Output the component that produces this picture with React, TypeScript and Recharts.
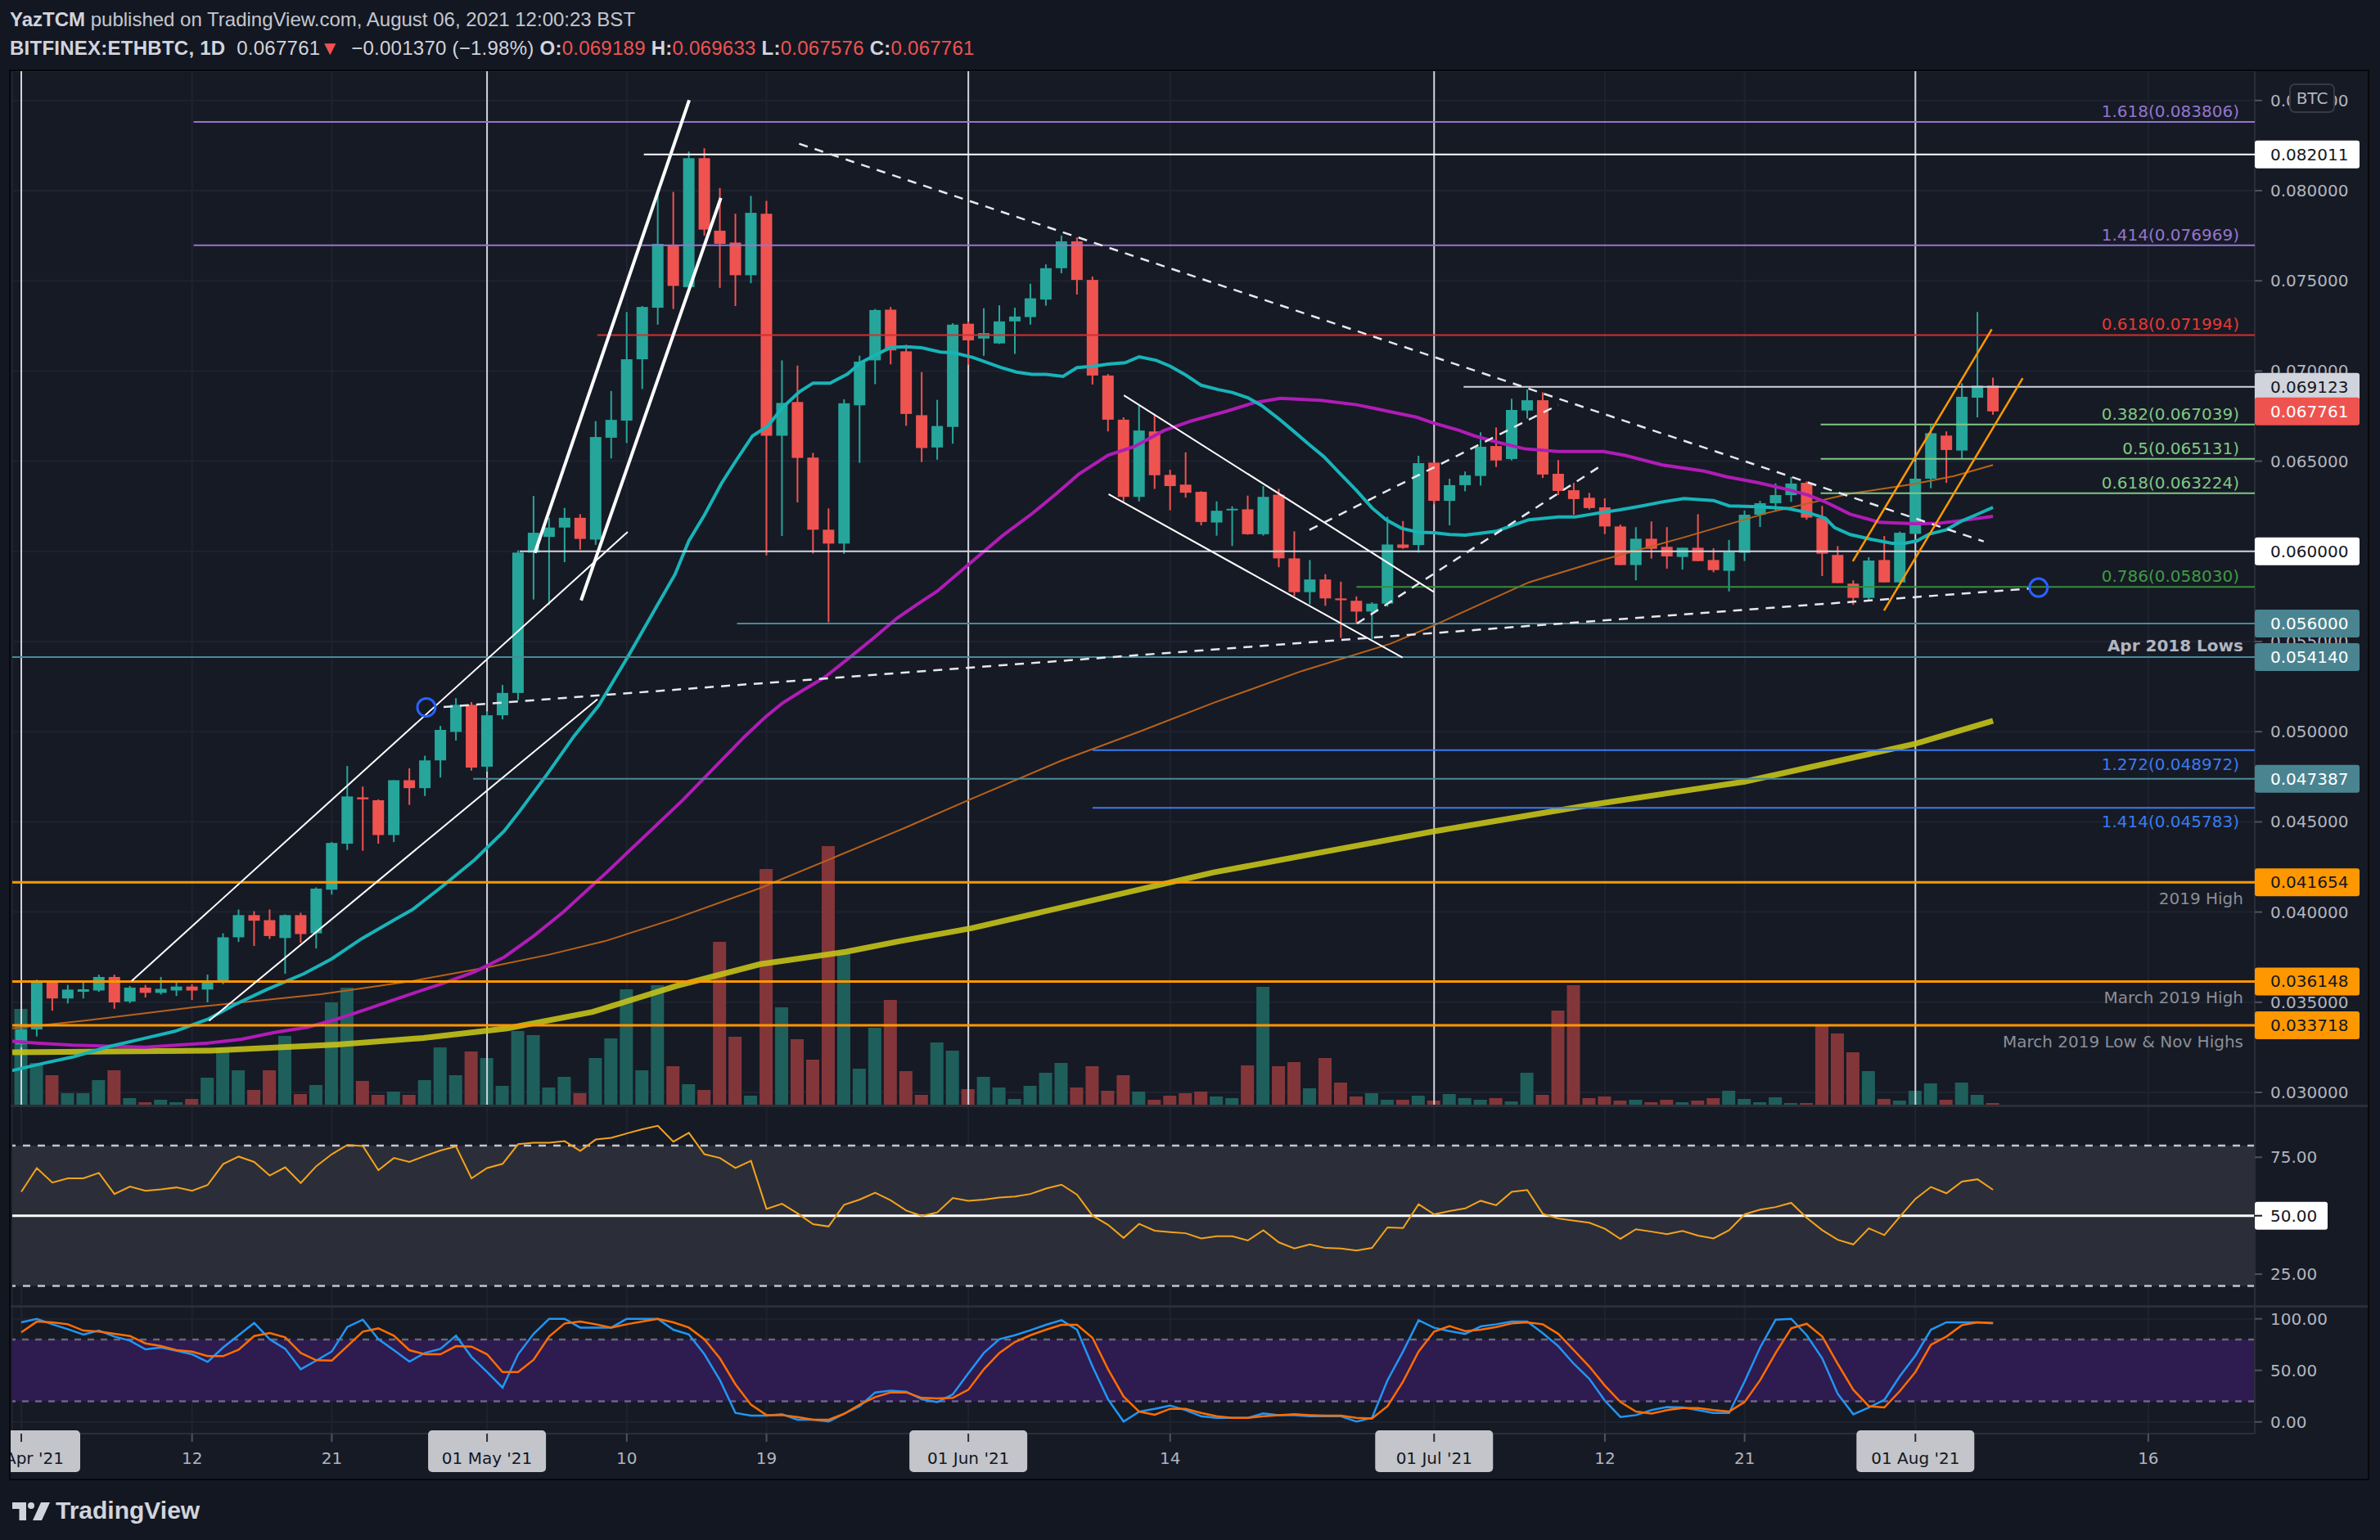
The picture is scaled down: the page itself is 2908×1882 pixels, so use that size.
import React from "react";
import {
  ComposedChart,
  Bar,
  Line,
  XAxis,
  YAxis,
  CartesianGrid,
  ReferenceLine,
  ReferenceArea,
  ReferenceDot,
} from "recharts";

// ─── Data (day index 0 = 01 Apr 2021) ────────────────────────────────────────

const opens = [
  0.03266, 0.03349, 0.03614, 0.03521, 0.03558, 0.03565, 0.0364, 0.03504, 0.03581, 0.03552,
  0.03565, 0.03587, 0.0357, 0.03609, 0.0386, 0.03983, 0.03955, 0.03856, 0.03983, 0.03882,
  0.04124, 0.04379, 0.04636, 0.0462, 0.04427, 0.04731, 0.04687, 0.04841, 0.04999, 0.05149,
  0.04806, 0.05091, 0.05215, 0.05993, 0.0608, 0.06132, 0.06186, 0.06065, 0.0663, 0.06725,
  0.07065, 0.07351, 0.07696, 0.07465, 0.0818, 0.07778, 0.07712, 0.07531, 0.07872, 0.06641,
  0.06828, 0.0652, 0.0612, 0.06043, 0.0681, 0.07059, 0.0734, 0.07109, 0.06755, 0.06576,
  0.0669, 0.07262, 0.0718, 0.07153, 0.07275, 0.07299, 0.07396, 0.0757, 0.07719, 0.07505,
  0.06975, 0.0673, 0.06302, 0.06665, 0.06424, 0.0637, 0.0633, 0.0616, 0.06228, 0.06233,
  0.06095, 0.06314, 0.05961, 0.05774, 0.05844, 0.05739, 0.05726, 0.05666, 0.0571, 0.06038,
  0.06035, 0.06492, 0.0628, 0.06367, 0.06418, 0.06584, 0.06512, 0.06781, 0.06838, 0.0643,
  0.06339, 0.06297, 0.06244, 0.06138, 0.05924, 0.0607, 0.06025, 0.05969, 0.0602, 0.05952,
  0.05892, 0.05992, 0.06203, 0.06267, 0.06312, 0.0638, 0.06184, 0.0598, 0.05821, 0.05742,
  0.05952, 0.05828, 0.06097, 0.06403, 0.06642, 0.06559, 0.06852, 0.069189,
];
const highs = [
  0.0336, 0.03625, 0.0362, 0.03596, 0.03609, 0.03653, 0.03653, 0.0359, 0.03596, 0.0364,
  0.03609, 0.036, 0.03653, 0.03882, 0.04014, 0.04005, 0.04014, 0.03987, 0.03996, 0.04137,
  0.04388, 0.0481, 0.04696, 0.04625, 0.04731, 0.04797, 0.04867, 0.05032, 0.05186, 0.05164,
  0.05113, 0.05259, 0.06006, 0.06307, 0.06186, 0.06241, 0.06206, 0.06722, 0.06889, 0.07327,
  0.0736, 0.07982, 0.07993, 0.08217, 0.08235, 0.08015, 0.07872, 0.07971, 0.07943, 0.07059,
  0.0703, 0.06546, 0.06238, 0.06843, 0.07085, 0.07344, 0.07355, 0.07145, 0.06994, 0.0684,
  0.07265, 0.07275, 0.07348, 0.07364, 0.07351, 0.07484, 0.07591, 0.07751, 0.0774, 0.07524,
  0.06983, 0.06743, 0.06808, 0.0676, 0.06452, 0.06549, 0.06333, 0.06277, 0.0625, 0.06309,
  0.06362, 0.06346, 0.06111, 0.05952, 0.05873, 0.05832, 0.0575, 0.05718, 0.06192, 0.06168,
  0.0653, 0.06492, 0.06403, 0.06443, 0.0666, 0.06687, 0.06846, 0.06897, 0.06882, 0.06506,
  0.0638, 0.06324, 0.06294, 0.06149, 0.06134, 0.06166, 0.06134, 0.0602, 0.06206, 0.06017,
  0.06063, 0.06226, 0.0628, 0.06377, 0.06413, 0.06388, 0.06252, 0.06029, 0.05839, 0.05967,
  0.06085, 0.0611, 0.06498, 0.06698, 0.06665, 0.06932, 0.07327, 0.069633,
];
const lows = [
  0.0325, 0.0331, 0.03453, 0.03493, 0.03521, 0.03557, 0.03464, 0.03495, 0.03526, 0.03543,
  0.03535, 0.03513, 0.03499, 0.036, 0.03834, 0.03812, 0.03851, 0.03658, 0.0383, 0.03798,
  0.04097, 0.04344, 0.0434, 0.04379, 0.04388, 0.04594, 0.04643, 0.04746, 0.04951, 0.04784,
  0.04779, 0.05069, 0.05175, 0.05733, 0.05703, 0.0594, 0.0601, 0.06036, 0.06515, 0.06601,
  0.069, 0.07257, 0.07344, 0.07465, 0.07751, 0.07461, 0.0736, 0.07487, 0.05977, 0.06085,
  0.06271, 0.05988, 0.05607, 0.05986, 0.06491, 0.06927, 0.07037, 0.06696, 0.06495, 0.06508,
  0.06597, 0.07035, 0.07084, 0.0715, 0.07095, 0.07257, 0.07362, 0.07542, 0.07424, 0.06925,
  0.06665, 0.06273, 0.06277, 0.06346, 0.06228, 0.06298, 0.06144, 0.06087, 0.0603, 0.06092,
  0.06087, 0.05912, 0.05752, 0.05706, 0.05698, 0.0552, 0.05601, 0.05512, 0.05693, 0.06014,
  0.05993, 0.06261, 0.06144, 0.06333, 0.06365, 0.06468, 0.06504, 0.06736, 0.06407, 0.06312,
  0.06203, 0.06232, 0.06096, 0.05924, 0.05839, 0.0596, 0.05904, 0.05899, 0.05946, 0.05884,
  0.05778, 0.05946, 0.06135, 0.06222, 0.06274, 0.06176, 0.05863, 0.05824, 0.05703, 0.05722,
  0.05828, 0.05828, 0.06097, 0.0635, 0.0638, 0.06513, 0.06743, 0.067576,
];
const closes = [
  0.03349, 0.03614, 0.03521, 0.0357, 0.03572, 0.0364, 0.03499, 0.03581, 0.03552, 0.03574,
  0.03587, 0.03565, 0.03609, 0.0386, 0.03983, 0.03952, 0.03867, 0.03983, 0.03878, 0.0413,
  0.04383, 0.04641, 0.04625, 0.04427, 0.04731, 0.04687, 0.04841, 0.0501, 0.05149, 0.04801,
  0.05091, 0.05215, 0.05993, 0.06103, 0.06132, 0.06186, 0.06069, 0.06634, 0.06729, 0.07065,
  0.07355, 0.07705, 0.07472, 0.0818, 0.07784, 0.07705, 0.07531, 0.07877, 0.06641, 0.06823,
  0.06518, 0.0612, 0.06043, 0.06821, 0.07052, 0.07338, 0.07114, 0.06762, 0.06573, 0.06695,
  0.07257, 0.0717, 0.0721, 0.07275, 0.07302, 0.07403, 0.0757, 0.07719, 0.07505, 0.06975,
  0.0673, 0.06302, 0.0667, 0.06422, 0.06362, 0.06325, 0.06163, 0.06225, 0.06236, 0.06095,
  0.06302, 0.05961, 0.05774, 0.05844, 0.05739, 0.05729, 0.05666, 0.0571, 0.06038, 0.06019,
  0.06489, 0.0628, 0.06367, 0.06422, 0.0658, 0.06504, 0.06784, 0.06838, 0.06426, 0.06335,
  0.0629, 0.0624, 0.06138, 0.05924, 0.0607, 0.06014, 0.05972, 0.0602, 0.05946, 0.05896,
  0.05995, 0.06203, 0.06267, 0.06312, 0.06376, 0.06187, 0.05987, 0.05824, 0.05742, 0.05949,
  0.05828, 0.06103, 0.06403, 0.06655, 0.06562, 0.06857, 0.06919, 0.067761,
];
// relative volume
const volumes = [
  118, 52, 37, 15, 15, 31, 43, 9, 4, 7, 4, 8, 34, 70, 43, 19, 43, 85, 14, 25,
  126, 144, 30, 13, 17, 13, 31, 71, 37, 66, 58, 24, 91, 86, 22, 35, 15, 58, 82, 142,
  43, 147, 48, 26, 19, 200, 84, 12, 289, 120, 81, 56, 317, 187, 45, 95, 129, 42, 13, 77,
  67, 20, 35, 22, 8, 24, 40, 52, 22, 48, 18, 37, 17, 7, 12, 15, 17, 11, 9, 49,
  145, 48, 53, 21, 58, 28, 11, 15, 7, 7, 12, 6, 14, 9, 7, 9, 5, 40, 13, 116,
  147, 9, 11, 6, 7, 4, 7, 4, 6, 9, 18, 8, 4, 10, 3, 3, 98, 88, 65, 42,
  8, 6, 18, 27, 7, 28, 13, 3,
];
const rsiValues = [
  60.2, 70.4, 64.2, 66.0, 66.0, 68.3, 59.3, 62.5, 60.7, 61.3,
  62.1, 60.7, 63.1, 72.1, 75.3, 73.0, 67.2, 70.7, 64.0, 71.2,
  76.3, 80.3, 79.8, 69.5, 74.7, 73.0, 75.6, 77.9, 79.6, 66.0,
  70.4, 72.2, 80.6, 81.2, 81.2, 81.9, 77.7, 82.6, 83.3, 85.2,
  87.0, 88.5, 81.7, 85.5, 76.3, 74.7, 70.4, 73.5, 52.9, 55.1,
  51.0, 46.4, 45.4, 54.7, 56.9, 59.8, 56.6, 52.2, 49.9, 51.4,
  57.6, 56.4, 56.9, 57.8, 58.2, 59.3, 61.6, 63.3, 59.0, 50.0,
  46.1, 40.5, 46.5, 43.6, 43.0, 42.5, 40.3, 41.2, 41.2, 39.4,
  43.8, 38.6, 36.0, 37.7, 36.2, 36.0, 35.1, 36.2, 45.0, 44.7,
  54.9, 50.6, 52.0, 53.1, 56.4, 54.5, 60.2, 61.0, 50.8, 48.8,
  47.9, 47.0, 44.4, 40.1, 44.2, 43.2, 42.1, 43.5, 41.5, 40.3,
  43.8, 50.6, 52.6, 53.7, 55.5, 49.1, 43.8, 39.7, 37.7, 44.6,
  41.7, 49.6, 57.2, 62.3, 59.6, 64.6, 65.6, 61.1,
];
const stochK = [
  96.6, 100, 94.7, 89.9, 84.7, 88.6, 82.8, 78.8, 70.4, 72.2,
  69.0, 65.6, 58.2, 72.2, 84.1, 96.0, 80.2, 70.9, 51.1, 59.5,
  68.3, 92.1, 99.2, 80.2, 69.6, 58.5, 66.9, 70.9, 83.6, 63.0,
  48.4, 33.3, 65.6, 85.4, 100, 100, 91.5, 91.5, 91.5, 100,
  100, 100, 89.4, 84.9, 65.6, 40.5, 8.7, 6.1, 6.1, 7.4,
  2.1, 2.1, 0.3, 7.9, 15.3, 28.6, 30.4, 29.4, 21.9, 19.3,
  26.7, 47.1, 66.9, 80.2, 84.1, 88.9, 94.2, 98.7, 89.4, 53.7,
  21.9, 0.3, 10.0, 12.7, 15.9, 11.4, 5.5, 4.0, 4.0, 4.0,
  8.2, 6.6, 6.6, 5.5, 5.5, 5.5, 0.3, 4.0, 40.5, 68.3,
  98.7, 91.3, 88.1, 85.4, 92.6, 94.7, 97.3, 97.3, 86.0, 73.5,
  56.3, 41.8, 20.6, 4.8, 6.6, 11.4, 14.5, 14.0, 11.4, 8.7,
  8.7, 39.2, 72.2, 99.2, 100, 84.1, 61.6, 27.2, 7.4, 14.0,
  21.4, 44.4, 64.3, 89.4, 96.6, 96.6, 96.6, 95.5,
];
const stochD = [
  86.8, 97.3, 96.6, 94.7, 88.6, 87.6, 85.4, 83.3, 76.2, 73.5,
  69.6, 68.2, 63.8, 63.8, 70.1, 83.3, 86.2, 82.0, 66.9, 59.8,
  59.5, 73.5, 87.6, 90.7, 83.6, 69.6, 65.6, 65.6, 73.5, 73.0,
  65.6, 48.4, 48.4, 60.3, 82.8, 95.5, 97.3, 94.7, 91.5, 94.7,
  97.3, 100, 96.6, 91.5, 80.2, 61.6, 36.5, 16.7, 6.6, 6.6,
  4.8, 2.1, 2.1, 7.9, 16.7, 24.1, 28.6, 28.6, 23.3, 22.7,
  23.3, 31.2, 51.1, 66.9, 77.5, 84.1, 89.4, 94.2, 94.2, 81.5,
  51.1, 24.6, 10.0, 6.9, 12.7, 12.7, 8.7, 5.5, 4.0, 4.0,
  5.5, 6.6, 7.4, 6.6, 6.1, 6.1, 4.0, 3.4, 15.3, 39.2,
  68.3, 87.6, 92.9, 88.1, 89.4, 92.1, 95.5, 96.6, 94.7, 85.4,
  69.6, 53.7, 35.2, 19.3, 10.0, 8.2, 11.4, 13.5, 13.5, 11.4,
  10.0, 19.3, 40.5, 66.9, 90.7, 95.2, 82.8, 56.3, 31.2, 15.3,
  14.0, 29.9, 48.4, 74.9, 82.8, 93.9, 96.6, 96.0,
];

// moving averages at these day positions
const ma20Days = [
  -0.7, 1.5, 3.3, 5.7, 8.0, 9.9, 12.0, 13.9, 15.8, 18.2, 20.0, 21.9, 24.2, 25.2, 27.1, 29.2, 31.1, 32.1, 33.9, 35.6,
  37.2, 39.1, 41.0, 42.1, 43.0, 44.0, 45.1, 46.0, 47.1, 48.1, 49.0, 50.1, 51.0, 52.1, 53.2, 54.1, 55.1, 56.0, 57.0, 58.0,
  59.2, 60.1, 61.3, 63.1, 64.1, 65.1, 66.0, 67.1, 68.0, 69.1, 70.0, 71.1, 72.0, 73.1, 74.0, 75.0, 76.0, 77.1, 78.0, 79.0,
  79.9, 81.0, 81.9, 83.0, 83.9, 84.9, 86.0, 87.0, 87.9, 88.9, 90.0, 91.0, 92.0, 93.0, 95.0, 96.0, 97.1, 99.0, 100.1, 101.7,
  102.9, 104.4, 105.7, 107.1, 109.0, 110.0, 111.9, 113.8, 115.1, 116.2, 116.8, 117.8, 119.2, 120.5, 121.3, 122.1, 122.9, 124.0, 125.0, 125.9,
  127.0,
];
const ma20Values = [
  0.03119, 0.03163, 0.03196, 0.03255, 0.03301, 0.03339, 0.03405, 0.03493, 0.0357, 0.03658, 0.03741, 0.03851, 0.03965, 0.04014, 0.04141, 0.0429, 0.04449, 0.04559, 0.04768, 0.04975,
  0.05146, 0.0542, 0.05706, 0.05871, 0.06058, 0.06201, 0.06377, 0.06498, 0.0664, 0.06696, 0.06795, 0.06883, 0.06933, 0.06933, 0.06982, 0.07048, 0.07092, 0.07131, 0.07134, 0.07129,
  0.07105, 0.071, 0.07075, 0.07019, 0.06994, 0.06981, 0.06981, 0.0697, 0.07019, 0.07027, 0.07038, 0.07046, 0.07079, 0.07059, 0.07027, 0.06978, 0.06921, 0.06897, 0.06881, 0.06852,
  0.06808, 0.06735, 0.0667, 0.06589, 0.06525, 0.06435, 0.06338, 0.06241, 0.06176, 0.06128, 0.06106, 0.06103, 0.06093, 0.0609, 0.06111, 0.06143, 0.06175, 0.06191, 0.06191, 0.06214,
  0.06229, 0.06252, 0.06274, 0.06293, 0.06282, 0.06252, 0.06247, 0.06237, 0.06214, 0.06184, 0.06131, 0.06093, 0.06066, 0.06045, 0.06045, 0.06058, 0.06096, 0.0612, 0.06169, 0.06202,
  0.06244,
];
const ma50Days = [
  -0.7, 1.0, 3.3, 8.0, 12.0, 14.2, 16.3, 18.4, 20.3, 22.2, 25.0, 27.1, 29.2, 31.1, 33.0, 34.9, 37.7, 42.6, 46.6, 47.9,
  49.0, 50.2, 51.7, 53.0, 54.9, 56.4, 57.7, 59.0, 61.1, 63.2, 65.1, 66.7, 68.1, 70.0, 71.7, 73.6, 75.4, 77.6, 79.4, 81.1,
  83.7, 86.0, 87.2, 88.2, 89.9, 90.9, 92.6, 93.6, 95.0, 96.8, 99.0, 101.9, 103.3, 105.7, 108.4, 109.8, 111.9, 113.8, 115.1, 116.2,
  117.8, 119.7, 121.9, 123.5, 125.1, 127.0,
];
const ma50Values = [
  0.03284, 0.03273, 0.03262, 0.03251, 0.03273, 0.03295, 0.03332, 0.03361, 0.03405, 0.0346, 0.03543, 0.03603, 0.03669, 0.0375, 0.03867, 0.03999, 0.0422, 0.0462, 0.04974, 0.05079,
  0.05157, 0.05222, 0.05299, 0.05387, 0.05519, 0.05629, 0.05706, 0.05779, 0.05933, 0.06087, 0.06209, 0.06322, 0.06427, 0.06533, 0.06581, 0.0667, 0.06724, 0.06776, 0.06824, 0.06849,
  0.06837, 0.06813, 0.06792, 0.06774, 0.06743, 0.06713, 0.06671, 0.0664, 0.06607, 0.06569, 0.06554, 0.06554, 0.06532, 0.06479, 0.06445, 0.06414, 0.0638, 0.06342, 0.06312, 0.06274,
  0.06206, 0.06161, 0.06153, 0.06156, 0.06172, 0.06194,
];
const ma100Days = [
  -0.6, 4.1, 11.2, 19.3, 24.8, 30.2, 34.0, 37.6, 42.0, 47.5, 52.0, 57.0, 61.0, 67.0, 72.0, 76.8, 82.5, 88.2, 90.9, 93.6,
  97.1, 101.7, 107.1, 112.5, 117.8, 121.9, 124.5, 127.0,
];
const ma100Values = [
  0.03355, 0.03398, 0.03473, 0.03544, 0.03612, 0.03696, 0.03764, 0.03839, 0.0396, 0.0413, 0.0429, 0.0447, 0.0462, 0.0484, 0.05, 0.0516, 0.05337, 0.05488, 0.05586, 0.05692,
  0.05828, 0.05949, 0.06078, 0.06214, 0.0632, 0.06373, 0.06418, 0.06479,
];
const ma200Days = [-0.6, 12.2, 20.4, 25.9, 31.3, 36.8, 42.2, 47.6, 53.1, 56.6, 61.2, 76.8, 90.9, 101.3, 111.0, 122.0, 127.0];
const ma200Values = [
  0.03222, 0.03231, 0.03265, 0.03302, 0.03355, 0.03446, 0.0359, 0.03711, 0.03779, 0.03839, 0.0391, 0.0422, 0.04446, 0.04597,
  0.04723, 0.04933, 0.0506,
];

// horizontal levels
const levelValues = [
  0.083806, 0.082011, 0.076969, 0.071994, 0.069123, 0.067039, 0.065131, 0.063224, 0.06,
  0.05803, 0.056, 0.05414, 0.048972, 0.047387, 0.045783, 0.041654, 0.036148, 0.033718,
];
const levelStartDays = [11.1, 40.1, 11.1, 37.1, 92.9, 115.9, 115.9, 115.9, 32.1, 86.0, 46.1, -0.58, 69.0, 29.1, 69.0, -0.58, -0.58, -0.58];
const levelRatios = ["1.618", "", "1.414", "0.618", "", "0.382", "0.5", "0.618", "", "0.786", "", "", "1.272", "", "1.414", "", "", ""];
const levelNotes = ["", "", "", "", "", "", "", "", "", "", "", "Apr 2018 Lows", "", "", "", "2019 High", "March 2019 High", "March 2019 Low & Nov Highs"];
const levelKinds = [
  "fibPurple", "white", "fibPurple", "fibRed", "grey", "fibGreen", "fibGreen", "fibGreen", "silver",
  "fibDarkGreen", "teal", "teal", "fibBlue", "teal", "fibBlue", "orange", "orange", "orange",
];
const lastPrice = 0.067761;

// trend lines [fromDay, fromPrice, toDay, toPrice]
const solidLines = [
  [7.1, 0.03617, 39.06, 0.06108],
  [12.09, 0.03397, 37.11, 0.0518],
  [71.02, 0.06865, 90.98, 0.05775],
  [70.03, 0.06317, 88.97, 0.05411],
];
const thickLines = [
  [33.08, 0.05992, 43.02, 0.08502],
  [36.06, 0.05728, 45.06, 0.0796],
];
const dashedLines = [
  [50.1, 0.0826, 126.4, 0.06055],
  [27.2, 0.05137, 129.4, 0.05794],
  [82.97, 0.06119, 99.0, 0.06812],
  [86.03, 0.056, 101.95, 0.06486],
];
const orangeLines = [
  [117.97, 0.05945, 126.92, 0.07231],
  [119.98, 0.05672, 128.91, 0.0696],
];
const circleDays = [26.09, 129.93];
const circlePrices = [0.05135, 0.05799];

const monthStartDays = [0, 30, 61, 91, 122];
const tickDays = [0, 11, 20, 30, 39, 48, 61, 74, 91, 102, 111, 122, 137];
const tickLabels = ["01 Apr '21", "12", "21", "01 May '21", "10", "19", "01 Jun '21", "14", "01 Jul '21", "12", "21", "01 Aug '21", "16"];
const priceTicks = [0.03, 0.035, 0.04, 0.045, 0.05, 0.055, 0.06, 0.065, 0.07, 0.075, 0.08, 0.085];
const rsiTicks = [25, 50, 75];
const stochTicks = [0, 50, 100];

const headerAuthor = "YazTCM";
const headerPublished = " published on TradingView.com, August 06, 2021 12:00:23 BST";
const headerSymbol = "BITFINEX:ETHBTC, 1D";
const headerLast = "0.067761";
const headerChange = " −0.001370 (−1.98%) ";
const headerOHLC = [
  ["O:", "0.069189"],
  ["H:", "0.069633"],
  ["L:", "0.067576"],
  ["C:", "0.067761"],
];

// ─── Layout / styles ─────────────────────────────────────────────────────────

const W = 2908;
const XMIN = -0.58;
const XMAX = 143.86;
const PMIN = 0.029274;
const PMAX = 0.086624;
const FONT = '"DejaVu Sans", Verdana, sans-serif';
const HFONT = '"Liberation Sans", Arial, sans-serif';
const BG = "#161a25";
const GRID = "#1f2330";
const AXIS_TEXT = "#b2b5be";
const UP = "#26a69a";
const DOWN = "#ef5350";
const CANDLE_W = 14;
const MARGIN = { top: 0, right: 13, bottom: 0, left: 15 };
const PRICE_MARGIN = { top: 87, right: 13, bottom: 1, left: 15 };

const kindStyle: Record<string, any> = {
  fibPurple: { line: "#9575cd", text: "#9575cd", pos: "above" },
  fibRed: { line: "#d32f2f", text: "#e53935", pos: "above" },
  fibGreen: { line: "#81c784", text: "#81c784", pos: "above" },
  fibDarkGreen: { line: "#388e3c", text: "#3f9b43", pos: "above" },
  fibBlue: { line: "#3a7bf0", text: "#3a7bf0", pos: "below" },
  white: { line: "#ffffff", box: "#ffffff", boxText: "#131722" },
  silver: { line: "#d1d4dc", box: "#ffffff", boxText: "#131722" },
  grey: { line: "#d1d4dc", box: "#d1d4dc", boxText: "#131722" },
  teal: { line: "#4a8a96", box: "#4a8491", boxText: "#ffffff", pos: "above" },
  orange: { line: "#ff9800", box: "#ff9800", boxText: "#131722", pos: "below" },
};

const rows = opens.map((o, i) => ({
  d: i,
  open: o,
  high: highs[i],
  low: lows[i],
  close: closes[i],
  vol: volumes[i],
}));
const rsiRows = rsiValues.map((v, i) => ({ d: i, rsi: v }));
const stochRows = stochK.map((v, i) => ({ d: i, k: v, dd: stochD[i] }));
const toSeries = (days: number[], vals: number[]) => days.map((d, i) => ({ d, v: vals[i] }));
const ma20 = toSeries(ma20Days, ma20Values);
const ma50 = toSeries(ma50Days, ma50Values);
const ma100 = toSeries(ma100Days, ma100Values);
const ma200 = toSeries(ma200Days, ma200Values);

// ─── Shapes and ticks ────────────────────────────────────────────────────────

const CandleShape = (props: any) => {
  const { x, y, width, height, payload } = props;
  if (!payload || x == null || y == null) return null;
  const { open, close, high, low } = payload;
  const top = Math.min(y, y + height);
  const h = Math.abs(height);
  const k = high > low ? h / (high - low) : 0;
  const yOf = (v: number) => top + (high - v) * k;
  const color = close >= open ? UP : DOWN;
  const bTop = yOf(Math.max(open, close));
  const bBot = yOf(Math.min(open, close));
  const cx = x + (width || 0) / 2;
  return (
    <g>
      <line x1={cx} x2={cx} y1={top} y2={top + h} stroke={color} strokeWidth={2} />
      <rect x={cx - CANDLE_W / 2} y={bTop} width={CANDLE_W} height={Math.max(2, bBot - bTop)} fill={color} />
    </g>
  );
};

const VolShape = (props: any) => {
  const { x, y, width, height, payload } = props;
  if (!payload) return null;
  const up = payload.close >= payload.open;
  const cx = x + (width || 0) / 2;
  return <rect x={cx - 8} y={y} width={16} height={Math.max(0, height)} fill={up ? "#1e5f5c" : "#833639"} />;
};

const PriceTick = (p: any) => {
  const { x, y, payload } = p;
  return (
    <g>
      <line x1={x} x2={x + 9} y1={y} y2={y} stroke="#50535e" strokeWidth={2} />
      <text x={x + 19} y={y + 7} fill={AXIS_TEXT} fontSize={20} fontFamily={FONT}>
        {Number(payload.value).toFixed(6)}
      </text>
    </g>
  );
};

const OscTick = (boxValue: number | null) => (p: any) => {
  const { x, y, payload } = p;
  const boxed = boxValue !== null && payload.value === boxValue;
  return (
    <g>
      {boxed && <rect x={x} y={y - 17} width={89} height={34} rx={3} fill="#ffffff" />}
      <line x1={x} x2={x + 9} y1={y} y2={y} stroke={boxed ? "#131722" : "#50535e"} strokeWidth={2} />
      <text x={x + 19} y={y + 7} fill={boxed ? "#131722" : AXIS_TEXT} fontSize={20} fontFamily={FONT}>
        {Number(payload.value).toFixed(2)}
      </text>
    </g>
  );
};

const DateTick = (p: any) => {
  const { x, y, payload } = p;
  const i = tickDays.indexOf(payload.value);
  const label = i >= 0 ? tickLabels[i] : "";
  const boxed = label.startsWith("01 ");
  return (
    <g>
      {boxed && <rect x={x - 72} y={y - 4} width={144} height={51} rx={5} fill="#c3c5cb" />}
      <line x1={x} x2={x} y1={y} y2={y + 10} stroke={boxed ? "#2a2e39" : "#50535e"} strokeWidth={2} />
      <text x={x} y={y + 37} textAnchor="middle" fill={boxed ? "#131722" : AXIS_TEXT} fontSize={20} fontFamily={FONT}>
        {label}
      </text>
    </g>
  );
};

const levelLabel = (i: number) => (p: any) => {
  const vb = p.viewBox || {};
  const right = (vb.x ?? 0) + (vb.width ?? 0);
  const y = vb.y ?? 0;
  const st = kindStyle[levelKinds[i]];
  const parts: any[] = [];
  if (levelRatios[i]) {
    const txt = `${levelRatios[i]}(${levelValues[i].toFixed(6)})`;
    const ty = st.pos === "below" ? y + 24 : y - 6;
    parts.push(
      <text key="f" x={right - 19} y={ty} textAnchor="end" fill={st.text} fontSize={20} fontFamily={FONT}>
        {txt}
      </text>
    );
  }
  if (levelNotes[i]) {
    const above = st.pos === "above";
    parts.push(
      <text
        key="n"
        x={right - 14}
        y={above ? y - 7 : y + 27}
        textAnchor="end"
        fill={above ? "#b2b5be" : "#8b8e97"}
        fontWeight={above ? 700 : 400}
        fontSize={20}
        fontFamily={FONT}
      >
        {levelNotes[i]}
      </text>
    );
  }
  if (st.box) {
    parts.push(
      <g key="b">
        <rect x={right} y={y - 17} width={128} height={34} rx={3} fill={st.box} />
        <text x={right + 19} y={y + 7} fill={st.boxText} fontSize={20} fontFamily={FONT}>
          {levelValues[i].toFixed(6)}
        </text>
      </g>
    );
  }
  return <g>{parts}</g>;
};

const lastPriceLabel = (p: any) => {
  const vb = p.viewBox || {};
  const right = (vb.x ?? 0) + (vb.width ?? 0);
  const y = vb.y ?? 0;
  return (
    <g>
      <rect x={right} y={y - 17} width={128} height={34} rx={3} fill={DOWN} />
      <text x={right + 19} y={y + 7} fill="#ffffff" fontSize={20} fontFamily={FONT}>
        {lastPrice.toFixed(6)}
      </text>
    </g>
  );
};

const seg = (s: number[]) =>
  [
    { x: s[0], y: s[1] },
    { x: s[2], y: s[3] },
  ] as any;

// ─── App ─────────────────────────────────────────────────────────────────────

export default function App() {
  return (
    <div
      style={{
        position: "absolute",
        left: 0,
        top: 0,
        width: W,
        height: 1882,
        background: "#131722",
        overflow: "hidden",
      }}
    >
      {/* header */}
      <div style={{ position: "absolute", left: 12, top: 9, font: `24px ${HFONT}`, lineHeight: "30px", color: "#d1d4dc", whiteSpace: "pre" }}>
        <b>{headerAuthor}</b>
        <span style={{ color: "#c4c7cf" }}>{headerPublished}</span>
      </div>
      <div
        style={{
          position: "absolute",
          left: 12,
          top: 44,
          font: `24px ${HFONT}`,
          lineHeight: "30px",
          letterSpacing: "0.25px",
          color: "#d1d4dc",
          whiteSpace: "pre",
        }}
      >
        <b>{headerSymbol}</b>
        {"  " + headerLast}
        <span style={{ color: DOWN }}>▼</span>
        {" " + headerChange}
        {headerOHLC.map(([k, v], i) => (
          <span key={k}>
            <b>{k}</b>
            <span style={{ color: DOWN }}>{v}</span>
            {i < headerOHLC.length - 1 ? " " : ""}
          </span>
        ))}
      </div>

      {/* chart frame */}
      <div
        style={{
          position: "absolute",
          left: 11,
          top: 85,
          width: 2880,
          height: 1720,
          border: "2px solid #07080c",
          background: BG,
          overflow: "hidden",
        }}
      >
        <div style={{ position: "absolute", left: -13, top: -87, width: W, height: 1882 }}>
          {/* price panel, bottom layer: grid, volume, month lines */}
          <div style={{ position: "absolute", left: 0, top: 0 }}>
            <ComposedChart width={W} height={1352} data={rows} margin={PRICE_MARGIN}>
              <CartesianGrid stroke={GRID} strokeWidth={2} />
              <XAxis dataKey="d" type="number" domain={[XMIN, XMAX]} ticks={tickDays} allowDataOverflow hide />
              <YAxis
                orientation="right"
                type="number"
                domain={[PMIN, PMAX]}
                ticks={priceTicks}
                interval={0}
                allowDataOverflow
                width={140}
                axisLine={{ stroke: "#2a2e39", strokeWidth: 2 }}
                tickLine={false}
                tickSize={0}
                tickMargin={0}
                tick={PriceTick}
              />
              <YAxis yAxisId="vy" type="number" domain={[0, 1264]} allowDataOverflow hide />
              <Bar yAxisId="vy" dataKey="vol" barSize={16} shape={VolShape} isAnimationActive={false} />
              {monthStartDays.map((d) => (
                <ReferenceLine key={`m${d}`} x={d} stroke="#d1d4dc" strokeWidth={2} ifOverflow="visible" />
              ))}
            </ComposedChart>
          </div>

          {/* price panel, top layer: candles, averages, drawings */}
          <div style={{ position: "absolute", left: 0, top: 0 }}>
            <ComposedChart width={W} height={1352} data={rows} margin={PRICE_MARGIN}>
              <XAxis dataKey="d" type="number" domain={[XMIN, XMAX]} ticks={tickDays} allowDataOverflow hide />
              <YAxis orientation="right" type="number" domain={[PMIN, PMAX]} ticks={priceTicks} allowDataOverflow width={140} tick={false} axisLine={false} tickLine={false} />
              <Bar dataKey={(r: any) => [r.low, r.high]} barSize={CANDLE_W} shape={CandleShape} isAnimationActive={false} />
              <Line data={ma200} dataKey="v" type="linear" stroke="#c4c21a" strokeOpacity={0.9} strokeWidth={7} dot={false} isAnimationActive={false} />
              <Line data={ma100} dataKey="v" type="linear" stroke="#b8621a" strokeWidth={2} dot={false} isAnimationActive={false} />
              <Line data={ma50} dataKey="v" type="linear" stroke="#b01cb6" strokeWidth={4} dot={false} isAnimationActive={false} />
              <Line data={ma20} dataKey="v" type="linear" stroke="#17b4b8" strokeWidth={4} dot={false} isAnimationActive={false} />
              {levelValues.map((v, i) => (
                <ReferenceLine
                  key={`l${i}`}
                  segment={[
                    { x: levelStartDays[i], y: v },
                    { x: XMAX, y: v },
                  ]}
                  stroke={kindStyle[levelKinds[i]].line}
                  strokeWidth={levelKinds[i] === "orange" ? 3 : 2}
                  ifOverflow="visible"
                  label={levelLabel(i)}
                />
              ))}
              <ReferenceLine
                segment={[
                  { x: XMIN, y: lastPrice },
                  { x: XMAX, y: lastPrice },
                ]}
                stroke="none"
                ifOverflow="visible"
                label={lastPriceLabel}
              />
              {solidLines.map((s, i) => (
                <ReferenceLine key={`s${i}`} segment={seg(s)} stroke="#ffffff" strokeWidth={2} ifOverflow="visible" />
              ))}
              {thickLines.map((s, i) => (
                <ReferenceLine key={`t${i}`} segment={seg(s)} stroke="#ffffff" strokeWidth={4} ifOverflow="visible" />
              ))}
              {dashedLines.map((s, i) => (
                <ReferenceLine key={`d${i}`} segment={seg(s)} stroke="#e6e8ee" strokeWidth={2.5} strokeDasharray="11 9" ifOverflow="visible" />
              ))}
              {orangeLines.map((s, i) => (
                <ReferenceLine key={`o${i}`} segment={seg(s)} stroke="#ff9800" strokeWidth={2.5} ifOverflow="visible" />
              ))}
              {circleDays.map((d, i) => (
                <ReferenceDot key={`c${i}`} x={d} y={circlePrices[i]} r={11} fill="none" stroke="#2962ff" strokeWidth={3} ifOverflow="visible" />
              ))}
            </ComposedChart>
          </div>

          {/* RSI panel */}
          <div style={{ position: "absolute", left: 0, top: 1351 }}>
            <ComposedChart width={W} height={245} data={rsiRows} margin={MARGIN}>
              <ReferenceArea x1={XMIN} x2={XMAX} y1={20} y2={80} fill="#2b2e39" fillOpacity={1} stroke="none" ifOverflow="visible" />
              <CartesianGrid stroke={GRID} strokeWidth={2} />
              <XAxis dataKey="d" type="number" domain={[XMIN, XMAX]} ticks={tickDays} allowDataOverflow hide />
              <YAxis
                orientation="right"
                type="number"
                domain={[11.38, 97.16]}
                ticks={rsiTicks}
                interval={0}
                allowDataOverflow
                width={140}
                axisLine={{ stroke: "#2a2e39", strokeWidth: 2 }}
                tickLine={false}
                tickSize={0}
                tickMargin={0}
                tick={OscTick(50)}
              />
              <ReferenceLine y={80} stroke="#c3c6ce" strokeWidth={2.5} strokeDasharray="9 9" />
              <ReferenceLine y={20} stroke="#c3c6ce" strokeWidth={2.5} strokeDasharray="9 9" />
              <ReferenceLine y={50} stroke="#ffffff" strokeWidth={3} />
              <Line dataKey="rsi" type="linear" stroke="#f5a31a" strokeWidth={2} dot={false} isAnimationActive={false} />
            </ComposedChart>
          </div>

          {/* Stoch RSI panel + date axis */}
          <div style={{ position: "absolute", left: 0, top: 1596 }}>
            <ComposedChart width={W} height={212} data={stochRows} margin={MARGIN}>
              <ReferenceArea x1={XMIN} x2={XMAX} y1={20} y2={80} fill="#2e1b50" fillOpacity={1} stroke="none" ifOverflow="visible" />
              <CartesianGrid stroke={GRID} strokeWidth={2} />
              <XAxis
                dataKey="d"
                type="number"
                domain={[XMIN, XMAX]}
                ticks={tickDays}
                interval={0}
                allowDataOverflow
                height={56}
                axisLine={{ stroke: "#2a2e39", strokeWidth: 2 }}
                tickLine={false}
                tickSize={0}
                tickMargin={0}
                tick={DateTick}
              />
              <YAxis
                orientation="right"
                type="number"
                domain={[-11.35, 112.46]}
                ticks={stochTicks}
                interval={0}
                allowDataOverflow
                width={140}
                axisLine={{ stroke: "#2a2e39", strokeWidth: 2 }}
                tickLine={false}
                tickSize={0}
                tickMargin={0}
                tick={OscTick(null)}
              />
              <ReferenceLine y={80} stroke="#676a75" strokeWidth={2.5} strokeDasharray="8 8" />
              <ReferenceLine y={20} stroke="#6f6290" strokeWidth={2.5} strokeDasharray="8 8" />
              <Line dataKey="k" type="linear" stroke="#2196f3" strokeWidth={2.5} dot={false} isAnimationActive={false} />
              <Line dataKey="dd" type="linear" stroke="#ff6d00" strokeWidth={2.5} dot={false} isAnimationActive={false} />
            </ComposedChart>
          </div>

          {/* pane separators */}
          <div style={{ position: "absolute", left: 13, top: 1350, width: 2882, height: 3, background: "#2a2e39" }} />
          <div style={{ position: "absolute", left: 13, top: 1595, width: 2882, height: 3, background: "#2a2e39" }} />

          {/* currency badge */}
          <div
            style={{
              position: "absolute",
              left: 2797,
              top: 102,
              width: 52,
              height: 32,
              border: "2px solid #363a45",
              borderRadius: 7,
              background: BG,
              color: AXIS_TEXT,
              font: `20px ${FONT}`,
              lineHeight: "32px",
              textAlign: "center",
            }}
          >
            BTC
          </div>
        </div>
      </div>

      {/* logo */}
      <svg style={{ position: "absolute", left: 15, top: 1836 }} width={50} height={24}>
        <path d="M0 0 H17 V22 H8.5 V8 H0 Z" fill="#d1d4dc" />
        <circle cx={23} cy={4} r={4} fill="#d1d4dc" />
        <path d="M35 0 H46 L36 22 H25 Z" fill="#d1d4dc" />
      </svg>
      <div style={{ position: "absolute", left: 68, top: 1829, font: `bold 30px ${HFONT}`, lineHeight: "34px", color: "#d1d4dc" }}>
        TradingView
      </div>
    </div>
  );
}
